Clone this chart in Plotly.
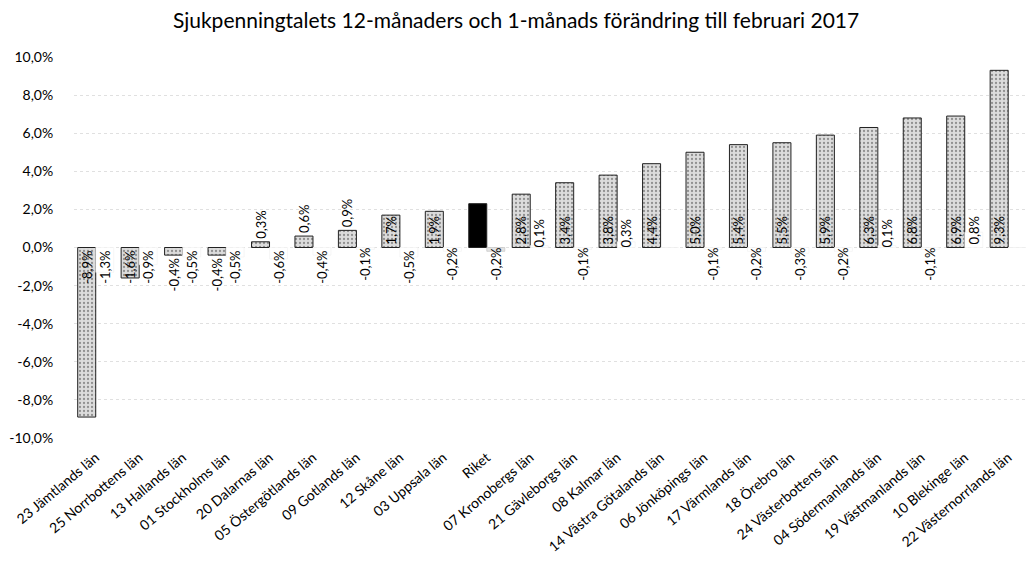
import plotly.graph_objects as go

categories = [
    "23 Jämtlands län", "25 Norrbottens län", "13 Hallands län", "01 Stockholms län",
    "20 Dalarnas län", "05 Östergötlands län", "09 Gotlands län", "12 Skåne län",
    "03 Uppsala län", "Riket", "07 Kronobergs län", "21 Gävleborgs län",
    "08 Kalmar län", "14 Västra Götalands län", "06 Jönköpings län", "17 Värmlands län",
    "18 Örebro län", "24 Västerbottens län", "04 Södermanlands län", "19 Västmanlands län",
    "10 Blekinge län", "22 Västernorrlands län",
]
change_12m = [-8.9, -1.6, -0.4, -0.4, 0.3, 0.6, 0.9, 1.7, 1.9, 2.3, 2.8, 3.4,
              3.8, 4.4, 5.0, 5.4, 5.5, 5.9, 6.3, 6.8, 6.9, 9.3]
change_1m = [-1.3, -0.9, -0.5, -0.5, -0.6, -0.4, -0.1, -0.5, -0.2, -0.2, 0.1, -0.1,
             0.3, 0.0, -0.1, -0.2, -0.3, -0.2, 0.1, -0.1, 0.8, 0.0]
tick_vals = [-10, -8, -6, -4, -2, 0, 2, 4, 6, 8, 10]
title_text = "Sjukpenningtalets 12-månaders och 1-månads förändring till februari 2017"

FONT = "Lato, 'Open Sans', sans-serif"


def fmt(v):
    return f"{v:.1f}%".replace(".", ",")


text_12 = ["" if c == "Riket" else fmt(v) for c, v in zip(categories, change_12m)]
pos_12 = ["inside" if abs(v) >= 1.5 else "outside" for v in change_12m]
col_12 = ["#000000" if c == "Riket" else "#dcdcdc" for c in categories]
pat_12 = ["" if c == "Riket" else "." for c in categories]

text_1 = [fmt(v) for v in change_1m]
col_1 = ["#e4e4e4" if c == "Riket" else "#ffffff" for c in categories]
line_1 = ["#bdbdbd" if c == "Riket" else "#f0f0f0" for c in categories]

fig = go.Figure()
fig.add_trace(go.Bar(
    x=categories, y=change_12m, name="12 mån",
    marker=dict(color=col_12, line=dict(color="#222222", width=1),
                pattern=dict(shape=pat_12, fgcolor="#8c8c8c", size=4, solidity=0.25)),
    text=text_12, textposition=pos_12, textangle=-90, insidetextanchor="start",
    textfont=dict(family=FONT, size=13, color="#000000"),
    constraintext="none", cliponaxis=False,
))
fig.add_trace(go.Bar(
    x=categories, y=change_1m, name="1 mån",
    marker=dict(color=col_1, line=dict(color=line_1, width=0.6)),
    text=text_1, textposition="inside", textangle=-90, insidetextanchor="start",
    textfont=dict(family=FONT, size=13, color="#000000"),
    constraintext="none", cliponaxis=False,
))

fig.update_layout(
    width=1026, height=568,
    margin=dict(l=74, r=0, t=57, b=130),
    paper_bgcolor="white", plot_bgcolor="white",
    barmode="group", bargap=0.17, bargroupgap=0.0,
    showlegend=False,
    title=dict(text=title_text, x=0.503, xanchor="center", y=0.963, yanchor="middle",
               font=dict(family=FONT, size=21, color="#000000")),
    font=dict(family=FONT, size=12, color="#000000"),
)
fig.update_xaxes(
    tickangle=-40, tickfont=dict(family=FONT, size=14, color="#000000"),
    showgrid=False, showline=False, ticks="outside", ticklen=5, tickcolor="rgba(0,0,0,0)",
    range=[-0.5, 21.41],
)
fig.update_yaxes(
    range=[-10, 10], tickvals=tick_vals,
    ticktext=[fmt(v) for v in tick_vals],
    tickfont=dict(family=FONT, size=14, color="#000000"),
    showgrid=True, gridcolor="#e0e0e0", gridwidth=1, griddash="dot",
    zeroline=False, showline=False, ticks="outside", ticklen=17, tickcolor="rgba(0,0,0,0)",
)

fig.write_html("out.html", config={"displayModeBar": False},
               post_script="document.body.style.margin='0';")
